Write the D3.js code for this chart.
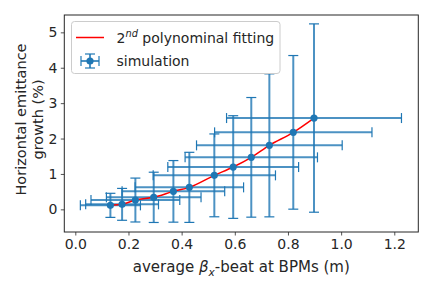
<!DOCTYPE html>
<html>
<head>
<meta charset="UTF-8" />
<script src="https://d3js.org/d3.v7.min.js"></script>
<style>
  body { margin: 0; background: #fff; }
  svg text { font-family: "DejaVu Sans", sans-serif; fill: #262626; }
</style>
</head>
<body>
<svg width="432" height="288"></svg>
<script>
// beta beat (m) and emittance growth (%)
var betaBeat = [0.132, 0.176, 0.226, 0.295, 0.369, 0.429, 0.523, 0.594, 0.662, 0.730, 0.820, 0.898];
var growth = [0.113, 0.141, 0.263, 0.339, 0.508, 0.621, 0.960, 1.195, 1.469, 1.808, 2.175, 2.579];
var betaErr = [0.113, 0.137, 0.167, 0.178, 0.193, 0.204, 0.230, 0.246, 0.249, 0.274, 0.296, 0.329];
var growthErr = [0.34, 0.45, 0.62, 0.71, 0.87, 0.99, 1.17, 1.45, 1.69, 2.02, 2.17, 2.66];
var xTicks = [0.0, 0.2, 0.4, 0.6, 0.8, 1.0, 1.2];
var yTicks = [0, 1, 2, 3, 4, 5];

var mL = 64.3, mR = 418.3, mT = 15, mB = 232;
var blue = "#1f77b4";

var svg = d3.select("svg");

var x = d3.scaleLinear().domain([-0.0414, 1.2903]).range([mL, mR]);
var y = d3.scaleLinear().domain([-0.64, 5.49]).range([mB, mT]);

var pts = betaBeat.map((b, i) => ({ x: b, y: growth[i], ex: betaErr[i], ey: growthErr[i] }));

// axes
var xAxis = svg.append("g")
  .attr("transform", "translate(0," + mB + ")")
  .call(d3.axisBottom(x).tickValues(xTicks).tickFormat(d3.format(".1f")).tickSize(3.5).tickPadding(3.5));
var yAxis = svg.append("g")
  .attr("transform", "translate(" + mL + ",0)")
  .call(d3.axisLeft(y).tickValues(yTicks).tickFormat(d3.format("d")).tickSize(3.5).tickPadding(3.5));
[xAxis, yAxis].forEach(function (a) {
  a.select(".domain").remove();
  a.selectAll(".tick line").attr("stroke", "#262626").attr("stroke-width", 0.8);
  a.selectAll(".tick text").attr("fill", "#262626")
    .style("font-family", "DejaVu Sans").style("font-size", "14px");
});

// error bars
var eb = svg.append("g").attr("stroke", blue);
eb.selectAll("line.v").data(pts).enter().append("line")
  .attr("x1", d => x(d.x)).attr("x2", d => x(d.x))
  .attr("y1", d => y(d.y - d.ey)).attr("y2", d => y(d.y + d.ey))
  .attr("stroke-width", 2).attr("stroke-opacity", 0.8);
eb.selectAll("line.h").data(pts).enter().append("line")
  .attr("x1", d => x(d.x - d.ex)).attr("x2", d => x(d.x + d.ex))
  .attr("y1", d => y(d.y)).attr("y2", d => y(d.y))
  .attr("stroke-width", 2).attr("stroke-opacity", 0.8);
var caps = [];
pts.forEach(function (d) {
  caps.push({ cx: x(d.x), cy: y(d.y - d.ey), h: true });
  caps.push({ cx: x(d.x), cy: y(d.y + d.ey), h: true });
  caps.push({ cx: x(d.x - d.ex), cy: y(d.y), h: false });
  caps.push({ cx: x(d.x + d.ex), cy: y(d.y), h: false });
});
eb.selectAll("line.cap").data(caps).enter().append("line")
  .attr("x1", c => c.h ? c.cx - 5 : c.cx).attr("x2", c => c.h ? c.cx + 5 : c.cx)
  .attr("y1", c => c.h ? c.cy : c.cy - 5).attr("y2", c => c.h ? c.cy : c.cy + 5)
  .attr("stroke-width", 1.2);

// fit line
svg.append("path").datum(pts)
  .attr("d", d3.line().x(d => x(d.x)).y(d => y(d.y)).curve(d3.curveMonotoneX))
  .attr("fill", "none").attr("stroke", "red").attr("stroke-width", 1.5);

svg.append("g").attr("fill", blue).selectAll("circle").data(pts).enter().append("circle")
  .attr("cx", d => x(d.x)).attr("cy", d => y(d.y)).attr("r", 3.6);

// frame
svg.append("rect").attr("x", mL).attr("y", mT)
  .attr("width", mR - mL).attr("height", mB - mT)
  .attr("fill", "none").attr("stroke", "#262626").attr("stroke-width", 1);

// legend
var lg = svg.append("g");
lg.append("rect").attr("x", 71.5).attr("y", 21.5).attr("width", 208.5).attr("height", 52)
  .attr("rx", 3).attr("fill", "#fff").attr("fill-opacity", 0.8).attr("stroke", "#ccc");
lg.append("line").attr("x1", 76).attr("x2", 104).attr("y1", 37.5).attr("y2", 37.5)
  .attr("stroke", "red").attr("stroke-width", 1.5);
var t1 = lg.append("text").attr("x", 116.5).attr("y", 42.5).style("font-size", "14px");
t1.append("tspan").text("2");
t1.append("tspan").attr("dy", -6).style("font-size", "9.8px").style("font-style", "italic").text("nd");
t1.append("tspan").attr("dy", 6).text(" polynominal fitting");
var lsx = 90, lsy = 61;
lg.append("line").attr("x1", lsx - 9).attr("x2", lsx + 9).attr("y1", lsy).attr("y2", lsy).attr("stroke", blue).attr("stroke-width", 2).attr("stroke-opacity", 0.8);
lg.append("line").attr("x1", lsx).attr("x2", lsx).attr("y1", lsy - 7).attr("y2", lsy + 7).attr("stroke", blue).attr("stroke-width", 2).attr("stroke-opacity", 0.8);
lg.append("line").attr("x1", lsx - 9).attr("x2", lsx - 9).attr("y1", lsy - 5).attr("y2", lsy + 5).attr("stroke", blue).attr("stroke-width", 1.2);
lg.append("line").attr("x1", lsx + 9).attr("x2", lsx + 9).attr("y1", lsy - 5).attr("y2", lsy + 5).attr("stroke", blue).attr("stroke-width", 1.2);
lg.append("line").attr("x1", lsx - 5).attr("x2", lsx + 5).attr("y1", lsy - 7).attr("y2", lsy - 7).attr("stroke", blue).attr("stroke-width", 1.2);
lg.append("line").attr("x1", lsx - 5).attr("x2", lsx + 5).attr("y1", lsy + 7).attr("y2", lsy + 7).attr("stroke", blue).attr("stroke-width", 1.2);
lg.append("circle").attr("cx", lsx).attr("cy", lsy).attr("r", 3.6).attr("fill", blue);
lg.append("text").attr("x", 116.5).attr("y", 66).style("font-size", "14px").text("simulation");

// axis labels
var xl = svg.append("text").attr("x", (mL + mR) / 2).attr("y", 272)
  .attr("text-anchor", "middle").style("font-size", "15px");
xl.append("tspan").text("average ");
xl.append("tspan").style("font-style", "italic").text("β");
xl.append("tspan").attr("dy", 3.5).style("font-size", "10.5px").style("font-style", "italic").text("x");
xl.append("tspan").attr("dy", -3.5).text("-beat at BPMs (m)");

var yl = svg.append("text").attr("transform", "translate(0," + ((mT + mB) / 2 - 4) + ") rotate(-90)")
  .attr("text-anchor", "middle").style("font-size", "14.5px");
yl.append("tspan").attr("x", 0).attr("y", 25.5).text("Horizontal emittance");
yl.append("tspan").attr("x", 0).attr("y", 42.5).text("growth (%)");
</script>
</body>
</html>
